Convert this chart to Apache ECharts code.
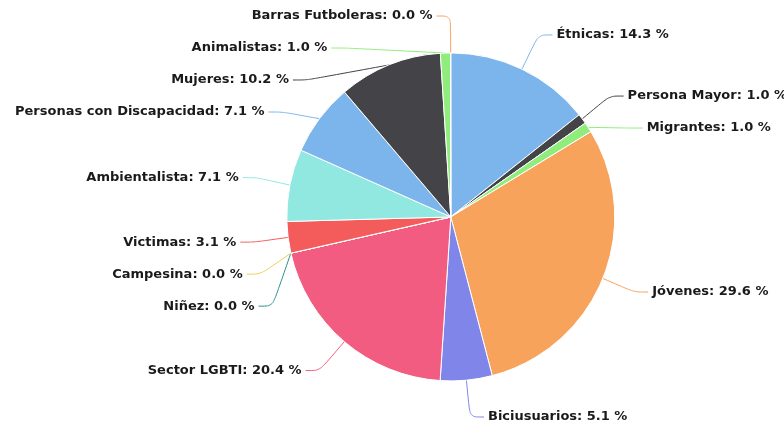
<!DOCTYPE html>
<html>
<head>
<meta charset="utf-8">
<script src="https://cdn.jsdelivr.net/npm/echarts@6/dist/echarts.min.js"></script>
<style>
html,body{margin:0;padding:0;background:#fff;}
#chart{width:784px;height:433px;}
</style>
</head>
<body>
<div id="chart"></div>
<script>
var categories = ["Étnicas","Persona Mayor","Migrantes","Jóvenes","Biciusuarios","Sector LGBTI","Campesina","Niñez","Victimas","Ambientalista","Personas con Discapacidad","Mujeres","Animalistas","Barras Futboleras"];
var percentages = [14.3,1.0,1.0,29.6,5.1,20.4,0.0,0.0,3.1,7.1,7.1,10.2,1.0,0.0];
var colors = ["#7cb5ec","#434348","#90ed7d","#f7a35c","#8085e9","#f15c80","#e4d354","#2b908f","#f45b5b","#91e8e1","#7cb5ec","#434348","#90ed7d","#f7a35c"];

var data = categories.map(function(c,i){
  return {name:c, value:percentages[i], itemStyle:{color:colors[i]}};
});

var chart = echarts.init(document.getElementById('chart'), null, {renderer:'canvas'});
chart.setOption({
  animation:false,
  series:[{
    type:'pie',
    center:['57.5%','50.1%'],
    radius:164,
    startAngle:90.05,
    clockwise:true,
    stillShowZeroSum:true,
    avoidLabelOverlap:true,
    itemStyle:{borderColor:'#ffffff',borderWidth:1},
    label:{
      show:true,
      formatter:function(p){return p.name+': '+p.value.toFixed(1)+' %';},
      fontFamily:'DejaVu Sans, Arial, sans-serif',
      fontWeight:'bold',
      fontSize:13,
      color:'#1a1a1a',
      lineHeight:30,
      overflow:'none',
      distanceToLabelLine:4
    },
    labelLine:{show:true,length:38,length2:14,smooth:0.3,lineStyle:{width:1}},
    data:data
  }]
});
</script>
</body>
</html>
